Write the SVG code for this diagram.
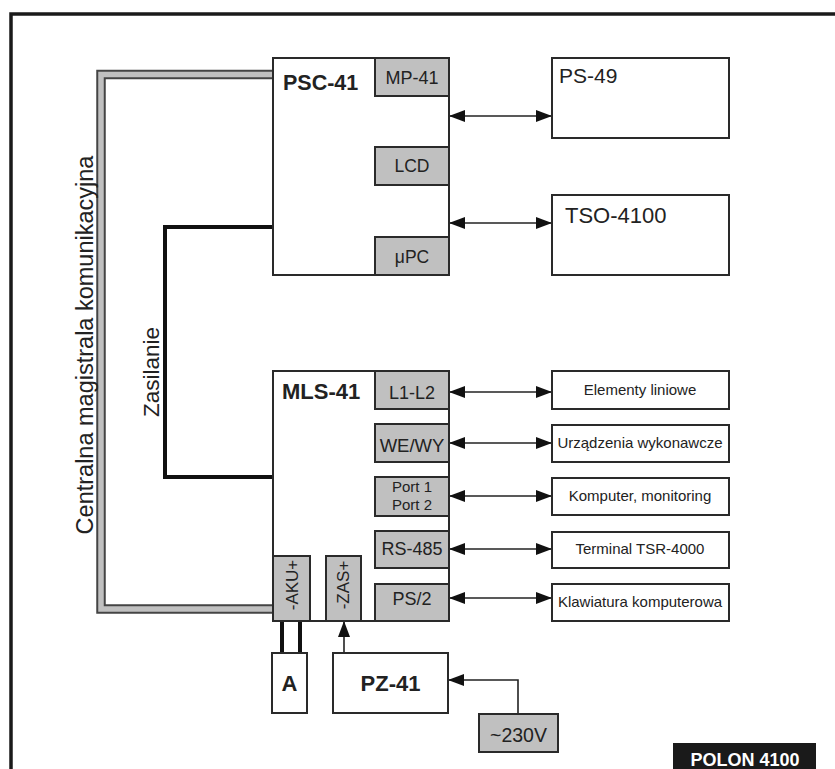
<svg xmlns="http://www.w3.org/2000/svg" width="835" height="769" viewBox="0 0 835 769">
<style>
text{font-family:"Liberation Sans",Arial,sans-serif;fill:#222}
.box{fill:#fff;stroke:#2a2a2a;stroke-width:2}
.gray{fill:#c0c0c0;stroke:#2a2a2a;stroke-width:2}
.b{font-weight:bold}
.m{text-anchor:middle}
.arr{fill:none;stroke:#222;stroke-width:1.6;marker-start:url(#ah);marker-end:url(#ah)}
.one{fill:none;stroke:#222;stroke-width:1.6;marker-end:url(#ah)}
.pw{fill:none;stroke:#111;stroke-width:4}
</style>
<defs>
<marker id="ah" markerUnits="userSpaceOnUse" markerWidth="16" markerHeight="12" refX="16" refY="6" orient="auto-start-reverse"><path d="M0,0 L16,6 L0,12 z" fill="#111"/></marker>
</defs>
<rect width="835" height="769" fill="#fff"/>
<path d="M11,769 V14 H835" fill="none" stroke="#1a1a1a" stroke-width="3.5"/>

<g id="connectors">
<path d="M273,74.5 H101 V609 H273" fill="none" stroke="#444" stroke-width="9.5"/>
<path d="M273,74.5 H101 V609 H273" fill="none" stroke="#c0c0c0" stroke-width="5.5"/>
<path class="pw" d="M273,227 H165 V477 H273"/>
<path class="pw" d="M282,621 V653 M300,621 V653"/>
<path class="arr" d="M449,116 H552"/>
<path class="arr" d="M449,223 H552"/>
<path class="arr" d="M449,392 H552"/>
<path class="arr" d="M449,443 H552"/>
<path class="arr" d="M449,496 H552"/>
<path class="arr" d="M449,549 H552"/>
<path class="arr" d="M449,598 H552"/>
<path class="one" d="M344,653 V621"/>
<path class="one" d="M518,714 V680 H448"/>
</g>

<g id="bus-label"><text class="m" font-size="23.5" transform="translate(93,345) rotate(-90)">Centralna magistrala komunikacyjna</text></g>
<g id="power-label"><text class="m" font-size="22.5" transform="translate(159,372) rotate(-90)">Zasilanie</text></g>

<g id="psc41">
<rect class="box" x="273" y="58" width="176" height="217"/>
<text class="b" x="283" y="90" font-size="21.5">PSC-41</text>
<rect class="gray" x="375" y="58" width="74" height="38"/>
<text class="m" x="412" y="84" font-size="18">MP-41</text>
<rect class="gray" x="375" y="147" width="74" height="38"/>
<text class="m" x="412" y="172" font-size="17.5">LCD</text>
<rect class="gray" x="375" y="237" width="74" height="38"/>
<text class="m" x="412" y="263" font-size="17.5">μPC</text>
</g>

<g id="ps49"><rect class="box" x="552" y="58" width="177" height="80"/><text x="559" y="83" font-size="21">PS-49</text></g>
<g id="tso4100"><rect class="box" x="552" y="195" width="177" height="80"/><text x="565" y="223" font-size="22">TSO-4100</text></g>

<g id="mls41">
<rect class="box" x="273" y="371" width="176" height="250"/>
<text class="b" x="282" y="399" font-size="22">MLS-41</text>
<rect class="gray" x="375" y="371" width="74" height="38"/>
<text class="m" x="412" y="399" font-size="18">L1-L2</text>
<rect class="gray" x="375" y="424" width="74" height="38"/>
<text class="m" x="412" y="452" font-size="18.5">WE/WY</text>
<rect class="gray" x="375" y="477" width="74" height="39"/>
<text class="m" x="412" y="492" font-size="15">Port 1</text>
<text class="m" x="412" y="510" font-size="15">Port 2</text>
<rect class="gray" x="375" y="531" width="74" height="37"/>
<text class="m" x="412" y="555" font-size="18">RS-485</text>
<rect class="gray" x="375" y="584" width="74" height="37"/>
<text class="m" x="412" y="605" font-size="18">PS/2</text>
<rect class="gray" x="273" y="556" width="37" height="65"/>
<text class="m" font-size="17" transform="translate(298,585) rotate(-90)">-AKU+</text>
<rect class="gray" x="326" y="556" width="35" height="65"/>
<text class="m" font-size="17" transform="translate(349,585) rotate(-90)">-ZAS+</text>
</g>

<g id="elementy"><rect class="box" x="552" y="371" width="177" height="38"/><text class="m" x="640" y="395" font-size="15">Elementy liniowe</text></g>
<g id="urzadzenia"><rect class="box" x="552" y="425" width="177" height="37"/><text class="m" x="640" y="448" font-size="15">Urządzenia wykonawcze</text></g>
<g id="komputer"><rect class="box" x="552" y="478" width="177" height="37"/><text class="m" x="640" y="501" font-size="15">Komputer, monitoring</text></g>
<g id="terminal"><rect class="box" x="552" y="532" width="177" height="36"/><text class="m" x="640" y="554" font-size="15">Terminal TSR-4000</text></g>
<g id="klawiatura"><rect class="box" x="552" y="584" width="177" height="37"/><text class="m" x="640" y="607" font-size="15">Klawiatura komputerowa</text></g>

<g id="akumulator"><rect class="box" x="272" y="653" width="35" height="60"/><text class="b m" x="289.5" y="691" font-size="22">A</text></g>
<g id="pz41"><rect class="box" x="333" y="653" width="115" height="60"/><text class="b m" x="390.5" y="691" font-size="22">PZ-41</text></g>
<g id="zasilanie230"><rect class="gray" x="479" y="714" width="79" height="38"/><text class="m" x="518.5" y="742" font-size="19.5">~230V</text></g>
<g id="polon"><rect x="673" y="743" width="143" height="28" fill="#1a1a1a"/><text class="b m" x="745" y="766" font-size="18" style="fill:#fff">POLON 4100</text></g>
</svg>
